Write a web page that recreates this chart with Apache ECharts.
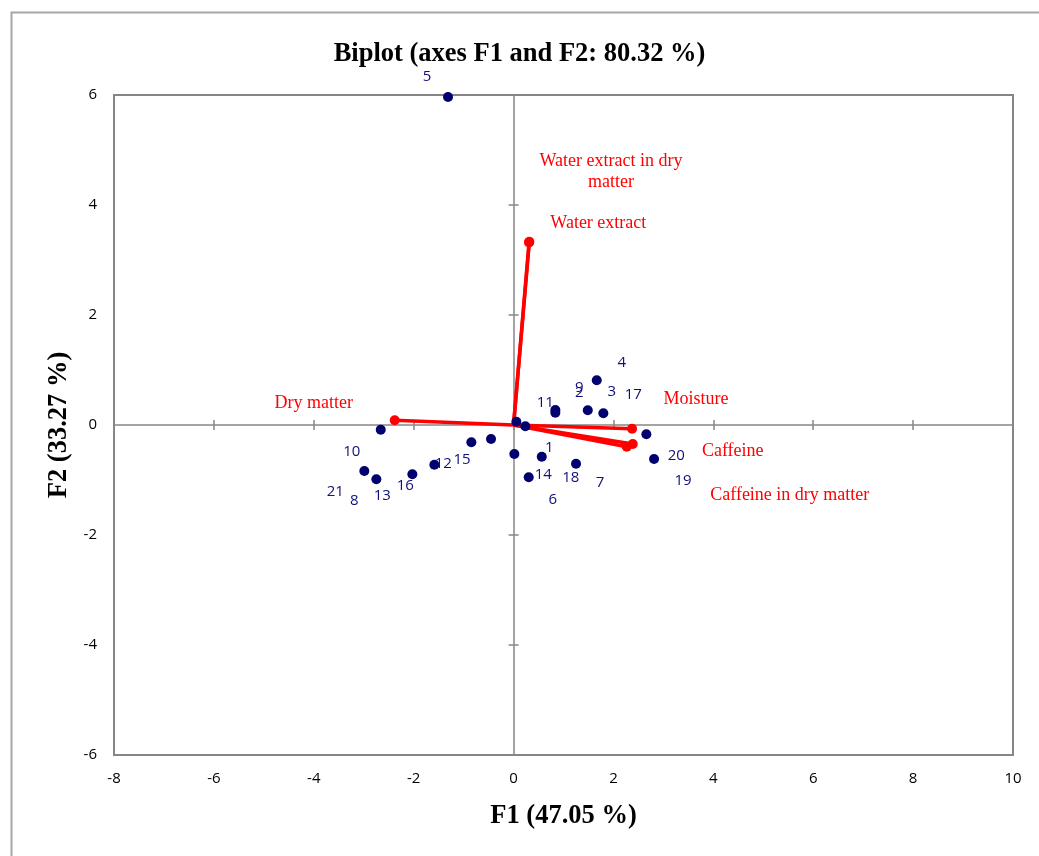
<!DOCTYPE html>
<html>
<head>
<meta charset="utf-8">
<script src="https://cdn.jsdelivr.net/npm/echarts@6/dist/echarts.min.js"></script>
<style>
html,body{margin:0;padding:0;background:#fff;}
#chart{width:1039px;height:856px;}
</style>
</head>
<body>
<div id="chart"></div>
<script>
// ---- Data ----
const obsLabels = ['1','2','3','4','5','6','7','8','9','10','11','12','13','14','15','16','17','18','19','20','21'];
const obsF1 = [0.236, 0.837, 1.486, 1.666, -1.312, 0.304, 1.251, -2.747, 0.837, -2.659, 0.056, -0.845, -2.026, 0.016, -0.451, -1.586, 1.798, 0.565, 2.813, 2.659, -2.988];
const obsF2 = [-0.024, 0.224, 0.267, 0.813, 5.964, -0.951, -0.704, -0.987, 0.273, -0.085, 0.060, -0.315, -0.896, -0.527, -0.255, -0.722, 0.213, -0.576, -0.618, -0.169, -0.836];

const varNames = ['Dry matter', 'Water extract', 'Water extract in dry\nmatter', 'Moisture', 'Caffeine', 'Caffeine in dry matter'];
const varF1 = [-2.379, 0.316, 0.310, 2.373, 2.387, 2.267];
const varF2 = [0.085, 3.330, 3.320, -0.067, -0.345, -0.395];

const xTicks = [-8, -6, -4, -2, 0, 2, 4, 6, 8, 10];
const yTicks = [-6, -4, -2, 0, 2, 4, 6];

const titleText = 'Biplot (axes F1 and F2: 80.32 %)';
const xName = 'F1 (47.05 %)';
const yName = 'F2 (33.27 %)';

// ---- Styling (label placement in pixels) ----
const obsLabelOffsets = [
  [24,21],[24,-20],[24,-19],[25,-18],[-21,-20],[24,22],[24,19],[-22,21],[24,-22],[-29,22],
  [29,-19],[-28,21],[-30,21],[29,21],[-29,21],[-29,21],[30,-19],[29,21],[29,22],[30,21],[-29,21]
];
const varLabelOffsets = [[-81,-17],[69,-19],[82,-71],[64,-29],[100,7],[163,49]];

const serif = '"Liberation Serif","Times New Roman",serif';
const sans = '"Open Sans","Liberation Sans",sans-serif';
const axisGrey = '#868686';

const chart = echarts.init(document.getElementById('chart'), null, {renderer: 'canvas'});

const xMin = xTicks[0], xMax = xTicks[xTicks.length-1], xInt = xTicks[1]-xTicks[0];
const yMin = yTicks[0], yMax = yTicks[yTicks.length-1], yInt = yTicks[1]-yTicks[0];

function baseX(extra) {
  return Object.assign({type:'value', gridIndex:0, min:xMin, max:xMax, interval:xInt, position:'bottom',
    splitLine:{show:false}, axisLabel:{show:false}, axisTick:{show:false}, axisLine:{show:false, onZero:false}}, extra);
}
function baseY(extra) {
  return Object.assign({type:'value', gridIndex:0, min:yMin, max:yMax, interval:yInt, position:'left',
    splitLine:{show:false}, axisLabel:{show:false}, axisTick:{show:false}, axisLine:{show:false, onZero:false}}, extra);
}

const vectorSeries = varNames.map((name, i) => ({
  type: 'line',
  name: name,
  xAxisIndex: 0, yAxisIndex: 0,
  z: 3,
  silent: true,
  symbol: 'circle',
  lineStyle: {color: '#FF0000', width: 3.5},
  itemStyle: {color: '#FF0000', opacity: 1},
  data: [
    {value: [0, 0], symbolSize: 0, label: {show: false}},
    {value: [varF1[i], varF2[i]], symbolSize: 10,
     label: {show: true, position: 'inside', offset: varLabelOffsets[i], formatter: name,
             color: '#FF0000', fontFamily: serif, fontSize: 18, align: 'center', verticalAlign: 'middle', lineHeight: 21}}
  ],
  animation: false
}));

const option = {
  animation: false,
  backgroundColor: '#ffffff',
  title: {
    text: titleText, left: 'center', top: 36,
    textStyle: {fontFamily: serif, fontWeight: 'bold', fontSize: 26.5, color: '#000'}
  },
  graphic: [{
    type: 'rect', left: 9, top: 10, silent: true,
    shape: {width: 1100, height: 900},
    style: {fill: 'none', stroke: '#A6A6A6', lineWidth: 2}
  }],
  grid: {left: 114, top: 95, width: 899, height: 660, show: true, borderColor: axisGrey, borderWidth: 2, backgroundColor: 'transparent'},
  xAxis: [
    baseX({
      axisLabel: {show: true, margin: 16, color: '#000', fontFamily: sans, fontSize: 15},
      name: xName, nameLocation: 'middle', nameGap: 48,
      nameTextStyle: {fontFamily: serif, fontWeight: 'bold', fontSize: 26.5, color: '#000'}
    }),
    baseX({axisLine: {show: true, onZero: true, onZeroAxisIndex: 0, lineStyle: {color: axisGrey, width: 1.5}},
           axisTick: {show: true, inside: false, length: 5, lineStyle: {color: axisGrey, width: 1.5}}}),
    baseX({axisLine: {show: false, onZero: true, onZeroAxisIndex: 0},
           axisTick: {show: true, inside: true, length: 5, lineStyle: {color: axisGrey, width: 1.5}}})
  ],
  yAxis: [
    baseY({
      axisLabel: {show: true, margin: 17, color: '#000', fontFamily: sans, fontSize: 15},
      name: yName, nameLocation: 'middle', nameGap: 40, nameRotate: 90,
      nameTextStyle: {fontFamily: serif, fontWeight: 'bold', fontSize: 26.5, color: '#000'}
    }),
    baseY({axisLine: {show: true, onZero: true, onZeroAxisIndex: 0, lineStyle: {color: axisGrey, width: 1.5}},
           axisTick: {show: true, inside: false, length: 5, lineStyle: {color: axisGrey, width: 1.5}}}),
    baseY({axisLine: {show: false, onZero: true, onZeroAxisIndex: 0},
           axisTick: {show: true, inside: true, length: 5, lineStyle: {color: axisGrey, width: 1.5}}})
  ],
  series: vectorSeries.concat([{
    type: 'scatter',
    name: 'Observations',
    xAxisIndex: 0, yAxisIndex: 0,
    z: 5,
    silent: true,
    symbol: 'circle',
    symbolSize: 10,
    itemStyle: {color: '#00006E', opacity: 1},
    data: obsLabels.map((lab, i) => ({
      value: [obsF1[i], obsF2[i]],
      label: {show: true, position: 'inside', offset: obsLabelOffsets[i], formatter: lab,
              color: '#10107A', fontFamily: sans, fontSize: 15, align: 'center', verticalAlign: 'middle'}
    }))
  }])
};

chart.setOption(option);
</script>
</body>
</html>
